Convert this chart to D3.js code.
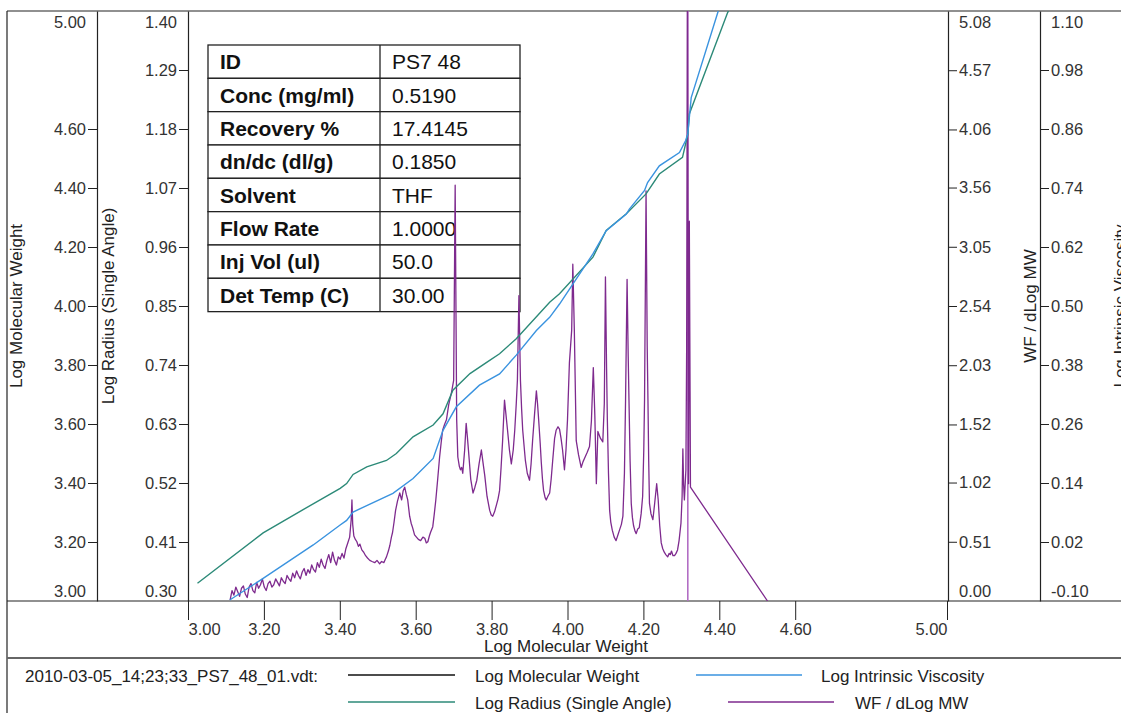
<!DOCTYPE html>
<html>
<head>
<meta charset="utf-8">
<script src="https://cdn.jsdelivr.net/npm/d3@7"></script>
<style>
  body { margin: 0; background: #fff; }
  svg { display: block; font-family: "Liberation Sans", Arial, sans-serif; }
</style>
</head>
<body>
<svg id="chart" width="1121" height="713"></svg>
<script>
// ---- Sample information ----
const tableLabels = ["ID", "Conc (mg/ml)", "Recovery %", "dn/dc (dl/g)", "Solvent", "Flow Rate", "Inj Vol (ul)", "Det Temp (C)"];
const tableValues = ["PS7 48", "0.5190", "17.4145", "0.1850", "THF", "1.0000", "50.0", "30.00"];

// ---- Axis ticks ----
const xTicks = [3.00, 3.20, 3.40, 3.60, 3.80, 4.00, 4.20, 4.40, 4.60, 5.00];
const mwTicks = [3.20, 3.40, 3.60, 3.80, 4.00, 4.20, 4.40, 4.60];
const radiusTicks = [0.41, 0.52, 0.63, 0.74, 0.85, 0.96, 1.07, 1.18, 1.29];
const wfTicks = [0.51, 1.02, 1.52, 2.03, 2.54, 3.05, 3.56, 4.06, 4.57];
const ivTicks = [0.02, 0.14, 0.26, 0.38, 0.50, 0.62, 0.74, 0.86, 0.98];

// ---- Log Radius (Single Angle): [Log MW, value] ----
const radiusPoints = [
  [3.025, 0.333], [3.198, 0.427], [3.300, 0.469], [3.401, 0.510], [3.418, 0.519], [3.435, 0.536],
  [3.471, 0.550], [3.523, 0.562], [3.549, 0.575], [3.593, 0.606], [3.646, 0.628], [3.672, 0.649],
  [3.698, 0.693], [3.743, 0.724], [3.787, 0.745], [3.821, 0.761], [3.865, 0.789], [3.953, 0.857],
  [3.979, 0.873], [4.067, 0.941], [4.102, 0.991], [4.155, 1.022], [4.207, 1.059], [4.242, 1.096],
  [4.303, 1.127], [4.317, 1.170], [4.321, 1.208], [4.422, 1.397], [4.432, 1.412]
];

// ---- Log Intrinsic Viscosity: [Log MW, value] ----
const ivPoints = [
  [3.110, -0.098], [3.198, -0.054], [3.330, 0.014], [3.400, 0.054], [3.418, 0.064], [3.435, 0.081],
  [3.540, 0.119], [3.593, 0.149], [3.646, 0.190], [3.672, 0.247], [3.707, 0.295], [3.768, 0.339],
  [3.821, 0.362], [3.865, 0.400], [3.918, 0.450], [3.953, 0.477], [3.979, 0.504], [4.067, 0.606],
  [4.102, 0.653], [4.155, 0.687], [4.163, 0.697], [4.203, 0.735], [4.211, 0.751], [4.242, 0.785],
  [4.295, 0.812], [4.311, 0.836], [4.317, 0.850], [4.326, 0.924], [4.396, 1.097], [4.402, 1.110]
];

// ---- WF / dLog MW: [Log MW, value] ----
const wfPoints = [
  [3.111, 0.01], [3.116, 0.09], [3.121, 0.05], [3.126, 0.12], [3.131, 0.08], [3.136, 0.04],
  [3.141, 0.11], [3.146, 0.13], [3.151, 0.06], [3.156, 0.03], [3.161, 0.12], [3.166, 0.15],
  [3.171, 0.09], [3.176, 0.07], [3.181, 0.16], [3.186, 0.11], [3.191, 0.14], [3.196, 0.19],
  [3.201, 0.12], [3.206, 0.09], [3.211, 0.15], [3.216, 0.17], [3.221, 0.12], [3.226, 0.14],
  [3.231, 0.19], [3.236, 0.16], [3.241, 0.13], [3.246, 0.20], [3.251, 0.17], [3.256, 0.15],
  [3.261, 0.22], [3.266, 0.19], [3.271, 0.17], [3.276, 0.24], [3.281, 0.20], [3.286, 0.26],
  [3.291, 0.22], [3.296, 0.19], [3.301, 0.25], [3.306, 0.28], [3.311, 0.22], [3.316, 0.27],
  [3.321, 0.24], [3.326, 0.31], [3.331, 0.27], [3.336, 0.25], [3.341, 0.33], [3.346, 0.29],
  [3.351, 0.36], [3.356, 0.31], [3.361, 0.28], [3.366, 0.35], [3.371, 0.40], [3.376, 0.33],
  [3.381, 0.42], [3.386, 0.35], [3.391, 0.31], [3.396, 0.38], [3.401, 0.36], [3.406, 0.41],
  [3.411, 0.37], [3.416, 0.45], [3.421, 0.50], [3.426, 0.55], [3.430, 0.70], [3.432, 0.87],
  [3.434, 0.66], [3.437, 0.56], [3.441, 0.53], [3.445, 0.51], [3.449, 0.47], [3.453, 0.49],
  [3.458, 0.44], [3.463, 0.42], [3.468, 0.39], [3.473, 0.37], [3.479, 0.35], [3.485, 0.34],
  [3.492, 0.33], [3.498, 0.35], [3.505, 0.32], [3.510, 0.34], [3.516, 0.33], [3.520, 0.36],
  [3.523, 0.38], [3.528, 0.43], [3.532, 0.48], [3.536, 0.55], [3.539, 0.59], [3.543, 0.68],
  [3.547, 0.78], [3.552, 0.86], [3.558, 0.93], [3.563, 0.87], [3.567, 0.95], [3.571, 0.98],
  [3.575, 0.92], [3.579, 0.87], [3.584, 0.73], [3.588, 0.67], [3.592, 0.63], [3.597, 0.57],
  [3.602, 0.55], [3.607, 0.53], [3.613, 0.52], [3.619, 0.55], [3.624, 0.54], [3.628, 0.50],
  [3.632, 0.51], [3.636, 0.56], [3.639, 0.59], [3.645, 0.64], [3.649, 0.75], [3.653, 0.87],
  [3.658, 1.05], [3.663, 1.24], [3.667, 1.36], [3.671, 1.47], [3.676, 1.52], [3.681, 1.56],
  [3.687, 1.69], [3.694, 1.79], [3.700, 1.90], [3.704, 3.58], [3.708, 1.56], [3.711, 1.24],
  [3.715, 1.16], [3.718, 1.13], [3.721, 1.15], [3.724, 1.10], [3.729, 1.30], [3.733, 1.53],
  [3.736, 1.42], [3.739, 1.30], [3.745, 1.05], [3.751, 0.93], [3.756, 0.98], [3.761, 1.04],
  [3.767, 1.18], [3.773, 1.30], [3.777, 1.20], [3.782, 1.08], [3.788, 0.90], [3.795, 0.78],
  [3.799, 0.74], [3.803, 0.73], [3.808, 0.77], [3.813, 0.83], [3.817, 0.88], [3.821, 0.95],
  [3.825, 1.15], [3.829, 1.38], [3.834, 1.73], [3.838, 1.60], [3.842, 1.47], [3.847, 1.30],
  [3.852, 1.18], [3.857, 1.30], [3.861, 1.47], [3.865, 1.70], [3.868, 1.90], [3.872, 2.63],
  [3.876, 1.90], [3.879, 1.66], [3.882, 1.47], [3.886, 1.32], [3.889, 1.21], [3.894, 1.10],
  [3.900, 1.04], [3.904, 1.18], [3.908, 1.38], [3.913, 1.60], [3.918, 1.81], [3.921, 1.70],
  [3.924, 1.56], [3.928, 1.36], [3.931, 1.19], [3.934, 1.05], [3.937, 0.95], [3.941, 0.89],
  [3.944, 0.87], [3.948, 0.90], [3.953, 0.93], [3.957, 1.05], [3.961, 1.21], [3.966, 1.40],
  [3.970, 1.47], [3.975, 1.50], [3.979, 1.48], [3.983, 1.40], [3.987, 1.30], [3.992, 1.13],
  [3.996, 1.30], [4.000, 1.56], [4.005, 2.05], [4.011, 2.33], [4.014, 2.90], [4.018, 2.33],
  [4.023, 1.38], [4.029, 1.26], [4.036, 1.15], [4.041, 1.20], [4.045, 1.23], [4.052, 1.28],
  [4.058, 1.33], [4.063, 1.55], [4.068, 2.01], [4.072, 1.60], [4.076, 1.01], [4.080, 1.46],
  [4.087, 1.40], [4.093, 1.37], [4.097, 1.70], [4.100, 2.79], [4.103, 2.00], [4.105, 1.56],
  [4.108, 1.10], [4.111, 0.78], [4.114, 0.68], [4.118, 0.61], [4.123, 0.55], [4.128, 0.52],
  [4.133, 0.57], [4.137, 0.61], [4.142, 0.66], [4.146, 0.73], [4.150, 1.10], [4.153, 1.73],
  [4.157, 2.77], [4.160, 2.10], [4.162, 1.73], [4.165, 1.20], [4.168, 0.84], [4.171, 0.72],
  [4.174, 0.65], [4.178, 0.60], [4.181, 0.58], [4.185, 0.62], [4.189, 0.63], [4.194, 0.75],
  [4.198, 0.90], [4.201, 1.30], [4.203, 1.73], [4.207, 3.53], [4.210, 2.20], [4.212, 1.73],
  [4.214, 1.20], [4.216, 0.84], [4.220, 0.75], [4.225, 0.70], [4.230, 0.85], [4.235, 1.01],
  [4.239, 0.87], [4.243, 0.65], [4.247, 0.50], [4.251, 0.45], [4.255, 0.42], [4.259, 0.40],
  [4.264, 0.38], [4.268, 0.41], [4.271, 0.40], [4.274, 0.43], [4.278, 0.39], [4.282, 0.39],
  [4.286, 0.41], [4.290, 0.44], [4.294, 0.52], [4.299, 0.67], [4.302, 0.90], [4.304, 1.31],
  [4.306, 1.00], [4.308, 0.87], [4.310, 1.00], [4.312, 1.13], [4.314, 2.20], [4.316, 5.60],
  [4.318, 2.50], [4.319, 1.01], [4.321, 3.27], [4.323, 1.80], [4.324, 0.98], [4.527, 0.00]
];

// Peak-limit marker position (Log MW)
const markerLogM = [4.317];

// ---- Legend ----
const legendFile = "2010-03-05_14;23;33_PS7_48_01.vdt:";
const legendNames = ["Log Molecular Weight", "Log Intrinsic Viscosity", "Log Radius (Single Angle)", "WF / dLog MW"];
const legendColors = ["#111111", "#3a93df", "#2c8a78", "#7e2a8e"];

// ---- Layout ----
const svg = d3.select("#chart");
const plot = { left: 188, right: 947, top: 11, bottom: 601 };
const FONT = 16.5;
const tickColor = "#333";

const x = d3.scaleLinear().domain([3.0, 5.0]).range([plot.left, plot.right]);
const yMW = d3.scaleLinear().domain([3.0, 5.0]).range([plot.bottom, plot.top]);
const yR = d3.scaleLinear().domain([0.30, 1.40]).range([plot.bottom, plot.top]);
const yWF = d3.scaleLinear().domain([0.0, 5.08]).range([plot.bottom, plot.top]);
const yIV = d3.scaleLinear().domain([-0.10, 1.10]).range([plot.bottom, plot.top]);
const fmt = d => d.toFixed(2);

// Frame lines
const frame = svg.append("g").attr("stroke", "#222").attr("stroke-width", 1.2);
frame.append("line").attr("x1", 7).attr("x2", 1121).attr("y1", 11).attr("y2", 11);
frame.append("line").attr("x1", 7).attr("x2", 7).attr("y1", 11).attr("y2", 713);
frame.append("line").attr("x1", 7).attr("x2", 1121).attr("y1", plot.bottom).attr("y2", plot.bottom);
svg.append("line").attr("x1", 7).attr("x2", 1121).attr("y1", 658).attr("y2", 658)
  .attr("stroke", "#666").attr("stroke-width", 2);

// Vertical axes: ticked interior values plus untick'd end labels
function yAxis(gen, xPos, scale, ticks, side) {
  const g = svg.append("g").attr("transform", `translate(${xPos},0)`)
    .call(gen(scale).tickValues(ticks).tickFormat(fmt).tickSize(9).tickSizeOuter(0).tickPadding(2));
  g.select(".domain").attr("stroke", "#222").attr("stroke-width", 1.2);
  g.selectAll(".tick line").attr("stroke", "#222");
  g.selectAll("text").attr("font-size", FONT).attr("fill", tickColor).attr("font-family", null);
  const dx = side === "left" ? -11 : 11;
  const anchor = side === "left" ? "end" : "start";
  const [lo, hi] = scale.domain();
  g.append("text").attr("x", dx).attr("y", 22).attr("dy", "0.35em")
    .attr("text-anchor", anchor).attr("font-size", FONT).attr("fill", tickColor).text(fmt(hi));
  g.append("text").attr("x", dx).attr("y", 591).attr("dy", "0.35em")
    .attr("text-anchor", anchor).attr("font-size", FONT).attr("fill", tickColor).text(fmt(lo));
  return g;
}
yAxis(d3.axisLeft, 97, yMW, mwTicks, "left");
yAxis(d3.axisLeft, plot.left, yR, radiusTicks, "left");
yAxis(d3.axisRight, 948, yWF, wfTicks, "right");
yAxis(d3.axisRight, 1040, yIV, ivTicks, "right");

// Bottom axis
const xg = svg.append("g").attr("transform", `translate(0,${plot.bottom})`)
  .call(d3.axisBottom(x).tickValues(xTicks).tickFormat(fmt).tickSize(19).tickSizeOuter(0).tickPadding(3));
xg.select(".domain").remove();
xg.selectAll(".tick line").attr("stroke", "#222");
xg.selectAll("text").attr("font-size", FONT).attr("fill", tickColor).attr("font-family", null)
  .attr("text-anchor", d => d === 3.0 ? "start" : d === 5.0 ? "end" : "middle");

// Axis titles
function vTitle(cx, text) {
  svg.append("text").attr("transform", `translate(${cx},306) rotate(-90)`)
    .attr("text-anchor", "middle").attr("dy", "0.35em")
    .attr("font-size", 17).attr("fill", "#222").text(text);
}
vTitle(16, "Log Molecular Weight");
vTitle(108, "Log Radius (Single Angle)");
vTitle(1030, "WF / dLog MW");
vTitle(1120, "Log Intrinsic Viscosity");
svg.append("text").attr("x", 566).attr("y", 652).attr("text-anchor", "middle")
  .attr("font-size", 17).attr("fill", "#222").text("Log Molecular Weight");

// Sample table
const table = svg.append("g");
const tx0 = 208, tx1 = 380, tx2 = 520, ty0 = 45, rowH = 33.33;
tableLabels.forEach((lab, i) => {
  const y0 = ty0 + i * rowH;
  table.append("rect").attr("x", tx0).attr("y", y0).attr("width", tx2 - tx0).attr("height", rowH)
    .attr("fill", "#fff").attr("stroke", "#222").attr("stroke-width", 1.3);
  table.append("text").attr("x", 220).attr("y", y0 + rowH / 2).attr("dy", "0.36em")
    .attr("font-size", 21).attr("font-weight", "bold").attr("fill", "#111").text(lab);
  table.append("text").attr("x", 392).attr("y", y0 + rowH / 2).attr("dy", "0.36em")
    .attr("font-size", 21).attr("fill", "#111").text(tableValues[i]);
});
table.append("line").attr("x1", tx1).attr("x2", tx1).attr("y1", ty0).attr("y2", ty0 + 8 * rowH)
  .attr("stroke", "#222").attr("stroke-width", 1.3);

// Series, clipped to the plot area
svg.append("clipPath").attr("id", "plotClip").append("rect")
  .attr("x", plot.left).attr("y", plot.top).attr("width", plot.right - plot.left + 1).attr("height", plot.bottom - plot.top);
const series = svg.append("g").attr("clip-path", "url(#plotClip)").attr("fill", "none");

const path = yScale => d3.line().x(d => x(d[0])).y(d => yScale(d[1]));
series.append("line")
  .attr("x1", x(markerLogM[0])).attr("x2", x(markerLogM[0]))
  .attr("y1", yWF(0)).attr("y2", yWF(5.08))
  .attr("stroke", "#b26ec4").attr("stroke-width", 1.6);
series.append("path").attr("d", path(yWF)(wfPoints))
  .attr("stroke", legendColors[3]).attr("stroke-width", 1.3).attr("stroke-linejoin", "round");
series.append("path").attr("d", path(yR)(radiusPoints))
  .attr("stroke", legendColors[2]).attr("stroke-width", 1.4);
series.append("path").attr("d", path(yIV)(ivPoints))
  .attr("stroke", legendColors[1]).attr("stroke-width", 1.4);

// Legend
const leg = svg.append("g").attr("font-size", 17).attr("fill", "#222");
leg.append("text").attr("x", 25).attr("y", 676).attr("dy", "0.35em").text(legendFile);
const legPos = [
  { x1: 348, x2: 455, tx: 475, y: 675 },
  { x1: 696, x2: 802, tx: 821, y: 675 },
  { x1: 348, x2: 455, tx: 475, y: 702 },
  { x1: 728, x2: 834, tx: 855, y: 702 }
];
legendNames.forEach((name, i) => {
  const p = legPos[i];
  leg.append("line").attr("x1", p.x1).attr("x2", p.x2).attr("y1", p.y).attr("y2", p.y)
    .attr("stroke", legendColors[i]).attr("stroke-width", 1.3);
  leg.append("text").attr("x", p.tx).attr("y", p.y + 1).attr("dy", "0.35em").text(name);
});
</script>
</body>
</html>
